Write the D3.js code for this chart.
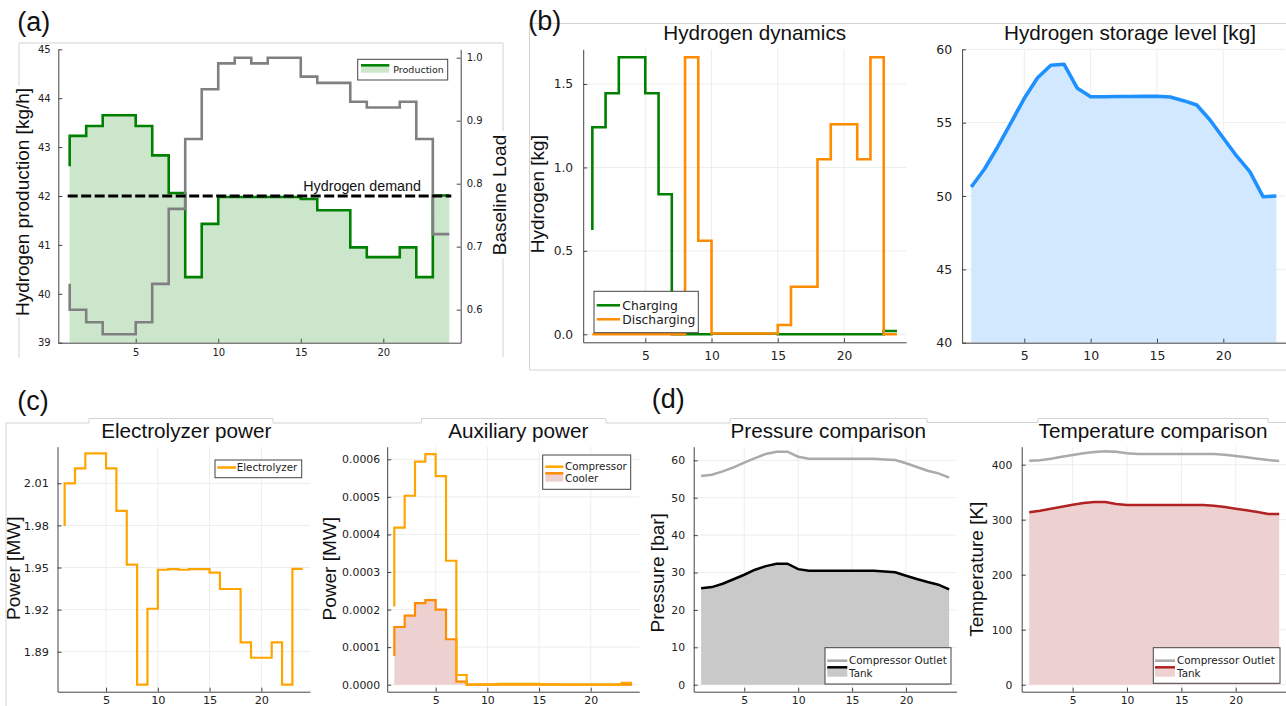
<!DOCTYPE html>
<html>
<head>
<meta charset="utf-8">
<script src="https://cdn.jsdelivr.net/npm/d3@7"></script>
<style>
  body { margin: 0; background: #fff; }
  svg { display: block; }
</style>
</head>
<body>
<svg width="1286" height="706"></svg>
<script>
// ---- data ----
const hours = [1, 2, 3, 4, 5, 6, 7, 8, 9, 10, 11, 12, 13, 14, 15, 16, 17, 18, 19, 20, 21, 22, 23, 24];

const h2Production = [42.61, 43.23, 43.43, 43.65, 43.65, 43.43, 42.83, 42.06, 40.34, 41.43, 41.98, 41.98,
                      41.98, 41.98, 41.98, 41.94, 41.71, 41.71, 40.95, 40.75, 40.75, 40.95, 40.34, 42.01];
const baselineLoad = [0.641, 0.600, 0.580, 0.561, 0.561, 0.580, 0.641, 0.760, 0.871, 0.950, 0.991, 1.000,
                      0.991, 1.000, 1.000, 0.970, 0.960, 0.960, 0.930, 0.921, 0.921, 0.930, 0.871, 0.720];
const h2Demand = 42;

const charging = [0.625, 1.241, 1.445, 1.66, 1.66, 1.445, 0.839, 0, 0, 0, 0.003, 0.003,
                  0.003, 0.003, 0.003, 0, 0, 0, 0, 0, 0, 0, 0, 0.02];
const discharging = [0, 0, 0, 0, 0, 0, 0, 0, 1.66, 0.561, 0.005, 0.005,
                     0.005, 0.005, 0.005, 0.056, 0.285, 0.285, 1.049, 1.259, 1.259, 1.049, 1.66, 0];
const storageLevel = [50.61, 51.84, 53.36, 55.0, 56.66, 58.06, 58.91, 58.98, 57.34, 56.77, 56.77, 56.78,
                      56.78, 56.79, 56.8, 56.75, 56.5, 56.2, 55.18, 53.95, 52.73, 51.66, 49.95, 50.0];

const electrolyzerPower = [1.9796, 2.0100, 2.0207, 2.0314, 2.0314, 2.0207, 1.9903, 1.9520, 1.8666, 1.9206, 1.9484, 1.9489,
                           1.9484, 1.9489, 1.9489, 1.9463, 1.9347, 1.9347, 1.8966, 1.8857, 1.8857, 1.8966, 1.8666, 1.9491];
const compressorPower = [0.000208, 0.000418, 0.000503, 0.000594, 0.000614, 0.000555, 0.000330, 0.0000258, 0, 0.000001, 0.000001, 0.000002,
                         0.000002, 0.000002, 0.000002, 0.000001, 0.000001, 0, 0, 0, 0, 0, 0, 0.000005];
const coolerPower = [0.0000764, 0.0001536, 0.000184, 0.000217, 0.000225, 0.000200, 0.000121, 0.000008, 0, 0, 0, 0,
                     0, 0, 0, 0, 0, 0, 0, 0, 0, 0, 0, 0];

const pressureOutlet = [55.8, 56.15, 57.05, 58.1, 59.36, 60.6, 61.7, 62.3, 62.3, 60.96, 60.43, 60.43,
                        60.43, 60.43, 60.43, 60.43, 60.43, 60.25, 60.07, 59.2, 58.2, 57.2, 56.5, 55.35];
const pressureTank = [25.77, 26.1, 27.0, 28.2, 29.4, 30.75, 31.7, 32.35, 32.35, 30.9, 30.5, 30.5,
                      30.5, 30.5, 30.5, 30.5, 30.5, 30.3, 30.05, 29.15, 28.25, 27.45, 26.75, 25.5];
const tempOutlet = [407.3, 408.0, 410.9, 414.5, 417.6, 420.7, 423.0, 424.2, 423.6, 420.7, 419.5, 419.5,
                    419.5, 419.5, 419.5, 419.5, 419.5, 419.5, 418.2, 415.8, 413.4, 410.9, 408.5, 406.7];
const tempTank = [313.4, 316.4, 320.0, 323.6, 327.3, 330.3, 332.1, 332.0, 328.5, 326.7, 326.7, 326.7,
                  326.7, 326.7, 326.7, 326.7, 326.7, 325.5, 323.0, 320.0, 317.0, 314.0, 310.4, 310.4];

// tick labels
const xTicks = [5, 10, 15, 20];
const prodTicks = [39, 40, 41, 42, 43, 44, 45];
const loadTicks = [0.6, 0.7, 0.8, 0.9, 1.0];
const dynTicks = [0, 0.5, 1.0, 1.5];
const storageTicks = [40, 45, 50, 55, 60];
const elecTicks = [1.89, 1.92, 1.95, 1.98, 2.01];
const auxTicks = [0, 0.0001, 0.0002, 0.0003, 0.0004, 0.0005, 0.0006];
const pressTicks = [0, 10, 20, 30, 40, 50, 60];
const tempTicks = [0, 100, 200, 300, 400];

// ---- drawing ----
const svg = d3.select("svg");
const xDomain = [0.31, 24.69];
const tickFont = "DejaVu Sans, sans-serif";
const labelFont = "Liberation Sans, Arial, sans-serif";
const frameColor = "#d4d4d4";

// faint frames left from the composed figure
svg.append("path").attr("fill", "none").attr("stroke", frameColor)
  .attr("d", "M19,358V43H503V357");
svg.append("path").attr("fill", "none").attr("stroke", frameColor)
  .attr("d", "M529.5,370V23.5H1286M529.5,370H1286");
svg.append("path").attr("fill", "none").attr("stroke", frameColor)
  .attr("d", "M6,706V423H89V418.5H273V423H421.5V418.5H606V423H650H730V418.5H927V422.5H1038V418.5H1268V422.5H1286");

function panel(c) {
  const x = d3.scaleLinear().domain(xDomain).range([c.left, c.right]);
  const y = d3.scaleLinear().domain(c.yDomain).range([c.bottom, c.top]);
  const g = svg.append("g");

  if (c.grid) {
    g.append("g").selectAll("line").data(xTicks).join("line")
      .attr("x1", d => x(d)).attr("x2", d => x(d))
      .attr("y1", c.top).attr("y2", c.bottom)
      .attr("stroke", "#ededed");
    g.append("g").selectAll("line").data(c.yTicks).join("line")
      .attr("x1", c.left).attr("x2", c.right)
      .attr("y1", d => y(d)).attr("y2", d => y(d))
      .attr("stroke", "#ededed");
  }

  const marks = g.append("g");
  const axes = g.append("g");

  const xAxis = axes.append("g")
    .attr("transform", `translate(0,${c.bottom})`)
    .call(d3.axisBottom(x).tickValues(xTicks).tickFormat(d3.format("d"))
      .tickSizeInner(-4).tickSizeOuter(0).tickPadding(c.padB));
  const yAxis = axes.append("g")
    .attr("transform", `translate(${c.left},0)`)
    .call(d3.axisLeft(y).tickValues(c.yTicks).tickFormat(d3.format(c.yFmt))
      .tickSizeInner(-4).tickSizeOuter(0).tickPadding(c.padL));

  [xAxis, yAxis].forEach(a => {
    a.attr("font-family", tickFont).attr("font-size", c.font);
    a.selectAll(".domain, .tick line").attr("stroke", "#444");
    a.selectAll("text").attr("fill", "#222");
  });

  return { x, y, g, marks, axes, c };
}

function stepPath(p, yScale) {
  return d3.line().x((d, i) => p.x(hours[i])).y(d => yScale(d)).curve(d3.curveStepBefore);
}
function stepArea(p, yScale, base) {
  return d3.area().x((d, i) => p.x(hours[i])).y0(yScale(base)).y1(d => yScale(d)).curve(d3.curveStepBefore);
}
function linePath(p) {
  return d3.line().x((d, i) => p.x(hours[i])).y(d => p.y(d));
}
function areaPath(p, base) {
  return d3.area().x((d, i) => p.x(hours[i])).y0(p.y(base)).y1(d => p.y(d));
}

function title(text, cx, y) {
  svg.append("text").attr("x", cx).attr("y", y)
    .attr("text-anchor", "middle")
    .attr("font-family", labelFont).attr("font-size", 20.7)
    .attr("fill", "#111").text(text);
}
function yLabel(text, x, cy) {
  svg.append("text")
    .attr("transform", `translate(${x},${cy}) rotate(-90)`)
    .attr("text-anchor", "middle")
    .attr("font-family", labelFont).attr("font-size", 19)
    .attr("fill", "#111").text(text);
}
function panelTag(text, x, y) {
  svg.append("text").attr("x", x).attr("y", y)
    .attr("font-family", labelFont).attr("font-size", 27)
    .attr("fill", "#111").text(text);
}

function legend(box, items, opt) {
  const lg = svg.append("g");
  lg.append("rect")
    .attr("x", box[0]).attr("y", box[1])
    .attr("width", box[2] - box[0]).attr("height", box[3] - box[1])
    .attr("fill", "#fff").attr("stroke", "#444").attr("stroke-width", 1);
  items.forEach(it => {
    if (it.fill) {
      lg.append("rect")
        .attr("x", opt.x0).attr("y", it.ly)
        .attr("width", opt.x1 - opt.x0).attr("height", it.fh)
        .attr("fill", it.fill);
    }
    lg.append("line")
      .attr("x1", opt.x0).attr("x2", opt.x1)
      .attr("y1", it.ly).attr("y2", it.ly)
      .attr("stroke", it.color).attr("stroke-width", it.w || 2.5);
    lg.append("text")
      .attr("x", opt.tx).attr("y", it.ty).attr("dy", "0.35em")
      .attr("font-family", tickFont).attr("font-size", opt.font)
      .attr("fill", "#222").text(it.label);
  });
}

// ---------- (a) hydrogen production vs baseline load ----------
const pA = panel({ left: 58.3, right: 460.7, top: 49.3, bottom: 342.7,
  yDomain: [39, 45], yTicks: prodTicks, yFmt: "d", font: 10, padL: 7.6, padB: 6.4, grid: false });
const yLoad = d3.scaleLinear().domain([0.5476, 1.0133]).range([342.7, 49.3]);

pA.marks.append("path").datum(h2Production)
  .attr("d", stepArea(pA, pA.y, 39)).attr("fill", "#cce6cc");
pA.marks.append("path").datum(h2Production)
  .attr("d", stepPath(pA, pA.y)).attr("fill", "none")
  .attr("stroke", "#008000").attr("stroke-width", 2.6);
pA.marks.append("path").datum(baselineLoad)
  .attr("d", stepPath(pA, yLoad)).attr("fill", "none")
  .attr("stroke", "#808080").attr("stroke-width", 2.6);
pA.marks.append("line")
  .attr("x1", pA.x(hours[0]) - 2).attr("x2", pA.x(hours[23]) + 2)
  .attr("y1", pA.y(h2Demand)).attr("y2", pA.y(h2Demand))
  .attr("stroke", "#000").attr("stroke-width", 2.8).attr("stroke-dasharray", "10,3.5");
pA.marks.append("text")
  .attr("x", pA.x(22.28)).attr("y", pA.y(h2Demand) - 5.5)
  .attr("text-anchor", "end")
  .attr("font-family", labelFont).attr("font-size", 14.3)
  .attr("fill", "#111").text("Hydrogen demand");

const rAxis = pA.axes.append("g").attr("transform", "translate(460.7,0)")
  .call(d3.axisRight(yLoad).tickValues(loadTicks).tickFormat(d3.format(".1f"))
    .tickSizeInner(-4).tickSizeOuter(0).tickPadding(6));
rAxis.attr("font-family", tickFont).attr("font-size", 10);
rAxis.selectAll(".domain, .tick line").attr("stroke", "#444");
rAxis.selectAll("text").attr("fill", "#222");

legend([357.7, 59.3, 447.7, 80], [
  { label: "Production", color: "#008000", ly: 65.3, ty: 69.8, fill: "#cce6cc", fh: 7.4 }
], { x0: 361, x1: 389.3, tx: 393.3, font: 9.5 });

svg.append("rect").attr("x", 12.7).attr("y", 86).attr("width", 22).attr("height", 231).attr("fill", "#fff");
svg.append("rect").attr("x", 489).attr("y", 131).attr("width", 20).attr("height", 127).attr("fill", "#fff");
yLabel("Hydrogen production [kg/h]", 28.6, 202);
yLabel("Baseline Load", 506.3, 195);
panelTag("(a)", 17.3, 31);

// ---------- (b) hydrogen dynamics ----------
const pB1 = panel({ left: 583.2, right: 906.1, top: 49.3, bottom: 342.3,
  yDomain: [-0.048, 1.708], yTicks: dynTicks, yFmt: ".1f", font: 12.3, padL: 10, padB: 9.3, grid: true });
pB1.marks.append("path").datum(charging)
  .attr("d", stepPath(pB1, pB1.y)).attr("fill", "none")
  .attr("stroke", "#008000").attr("stroke-width", 2.6);
pB1.marks.append("path").datum(discharging)
  .attr("d", stepPath(pB1, pB1.y)).attr("fill", "none")
  .attr("stroke", "#ff8c00").attr("stroke-width", 2.6);
legend([594, 291.3, 698.3, 332.7], [
  { label: "Charging", color: "#008000", ly: 305.3, ty: 305.3 },
  { label: "Discharging", color: "#ff8c00", ly: 319.3, ty: 319.3 }
], { x0: 596.7, x1: 620, tx: 622.3, font: 12.3 });
title("Hydrogen dynamics", 754.7, 40);
yLabel("Hydrogen [kg]", 543.6, 194.2);
panelTag("(b)", 528.3, 29.5);

const pB2 = panel({ left: 962.1, right: 1285.5, top: 49.3, bottom: 342.7,
  yDomain: [40, 60], yTicks: storageTicks, yFmt: "d", font: 12.5, padL: 10, padB: 8.8, grid: true });
pB2.marks.append("path").datum(storageLevel)
  .attr("d", areaPath(pB2, 40)).attr("fill", "#d2e8ff");
pB2.marks.append("path").datum(storageLevel)
  .attr("d", linePath(pB2)).attr("fill", "none")
  .attr("stroke", "#1e90ff").attr("stroke-width", 3.6).attr("stroke-linejoin", "round");
title("Hydrogen storage level [kg]", 1130, 40);

// ---------- (c) power ----------
// bottom tick labels sit right at the lower edge of the page
const bottomPad = 4.5;
const pC1 = panel({ left: 57.5, right: 309.9, top: 446.7, bottom: 691.7,
  yDomain: [1.8615, 2.0361], yTicks: elecTicks, yFmt: ".2f", font: 11.3, padL: 8.5, padB: bottomPad, grid: true });
pC1.marks.append("path").datum(electrolyzerPower)
  .attr("d", stepPath(pC1, pC1.y)).attr("fill", "none")
  .attr("stroke", "#ffa500").attr("stroke-width", 2.2);
legend([215, 460, 301.7, 477.7], [
  { label: "Electrolyzer", color: "#ffa500", ly: 467.5, ty: 467.5 }
], { x0: 217.3, x1: 236, tx: 236.7, font: 10.3 });
title("Electrolyzer power", 186.3, 438);
yLabel("Power [MW]", 20.3, 568.3);
panelTag("(c)", 17.3, 409.5);

const pC2 = panel({ left: 387.2, right: 639.2, top: 446.7, bottom: 691.7,
  yDomain: [-0.0000186, 0.0006335], yTicks: auxTicks, yFmt: ".4f", font: 10.9, padL: 7, padB: bottomPad, grid: true });
pC2.marks.append("path").datum(coolerPower)
  .attr("d", stepArea(pC2, pC2.y, 0)).attr("fill", "#edd0d0");
pC2.marks.append("path").datum(coolerPower)
  .attr("d", stepPath(pC2, pC2.y)).attr("fill", "none")
  .attr("stroke", "#ff8c00").attr("stroke-width", 2.2);
pC2.marks.append("path").datum(compressorPower)
  .attr("d", stepPath(pC2, pC2.y)).attr("fill", "none")
  .attr("stroke", "#ffa500").attr("stroke-width", 2.2);
legend([542.7, 455, 630.7, 489.3], [
  { label: "Compressor", color: "#ffa500", ly: 466.7, ty: 466.7 },
  { label: "Cooler", color: "#ff8c00", ly: 473.3, ty: 478.6, fill: "#edd0d0", fh: 8.4 }
], { x0: 545.3, x1: 563.3, tx: 565, font: 10.3 });
title("Auxiliary power", 518.3, 438);
yLabel("Power [MW]", 336.3, 568.7);

// ---------- (d) pressure and temperature ----------
const pD1 = panel({ left: 693.7, right: 956.6, top: 446.7, bottom: 691.7,
  yDomain: [-1.87, 63.64], yTicks: pressTicks, yFmt: "d", font: 10.8, padL: 8.7, padB: bottomPad, grid: true });
pD1.marks.append("path").datum(pressureTank)
  .attr("d", areaPath(pD1, 0)).attr("fill", "#c9c9c9");
pD1.marks.append("path").datum(pressureTank)
  .attr("d", linePath(pD1)).attr("fill", "none")
  .attr("stroke", "#000").attr("stroke-width", 2.5);
pD1.marks.append("path").datum(pressureOutlet)
  .attr("d", linePath(pD1)).attr("fill", "none")
  .attr("stroke", "#aaaaaa").attr("stroke-width", 2.5);
legend([825, 647.7, 951, 684], [
  { label: "Compressor Outlet", color: "#aaaaaa", ly: 660.7, ty: 660.7 },
  { label: "Tank", color: "#000", ly: 667.3, ty: 673.3, fill: "#c9c9c9", fh: 9.4 }
], { x0: 827.3, x1: 847.3, tx: 849, font: 10.4 });
title("Pressure comparison", 828.3, 438);
yLabel("Pressure [bar]", 663.6, 572.8);
panelTag("(d)", 651.7, 408);

const pD2 = panel({ left: 1021.7, right: 1286.7, top: 446.7, bottom: 691.7,
  yDomain: [-12.7, 432.7], yTicks: tempTicks, yFmt: "d", font: 10.8, padL: 9.4, padB: bottomPad, grid: true });
pD2.marks.append("path").datum(tempTank)
  .attr("d", areaPath(pD2, 0)).attr("fill", "#edd0d0");
pD2.marks.append("path").datum(tempTank)
  .attr("d", linePath(pD2)).attr("fill", "none")
  .attr("stroke", "#b22222").attr("stroke-width", 2.5);
pD2.marks.append("path").datum(tempOutlet)
  .attr("d", linePath(pD2)).attr("fill", "none")
  .attr("stroke", "#aaaaaa").attr("stroke-width", 2.5);
legend([1153.3, 647.7, 1280, 683.3], [
  { label: "Compressor Outlet", color: "#aaaaaa", ly: 660.7, ty: 660.7 },
  { label: "Tank", color: "#b22222", ly: 667.3, ty: 673.3, fill: "#edd0d0", fh: 9.4 }
], { x0: 1155, x1: 1175, tx: 1177, font: 10.4 });
title("Temperature comparison", 1153, 438);
yLabel("Temperature [K]", 982.9, 569.2);
</script>
</body>
</html>
